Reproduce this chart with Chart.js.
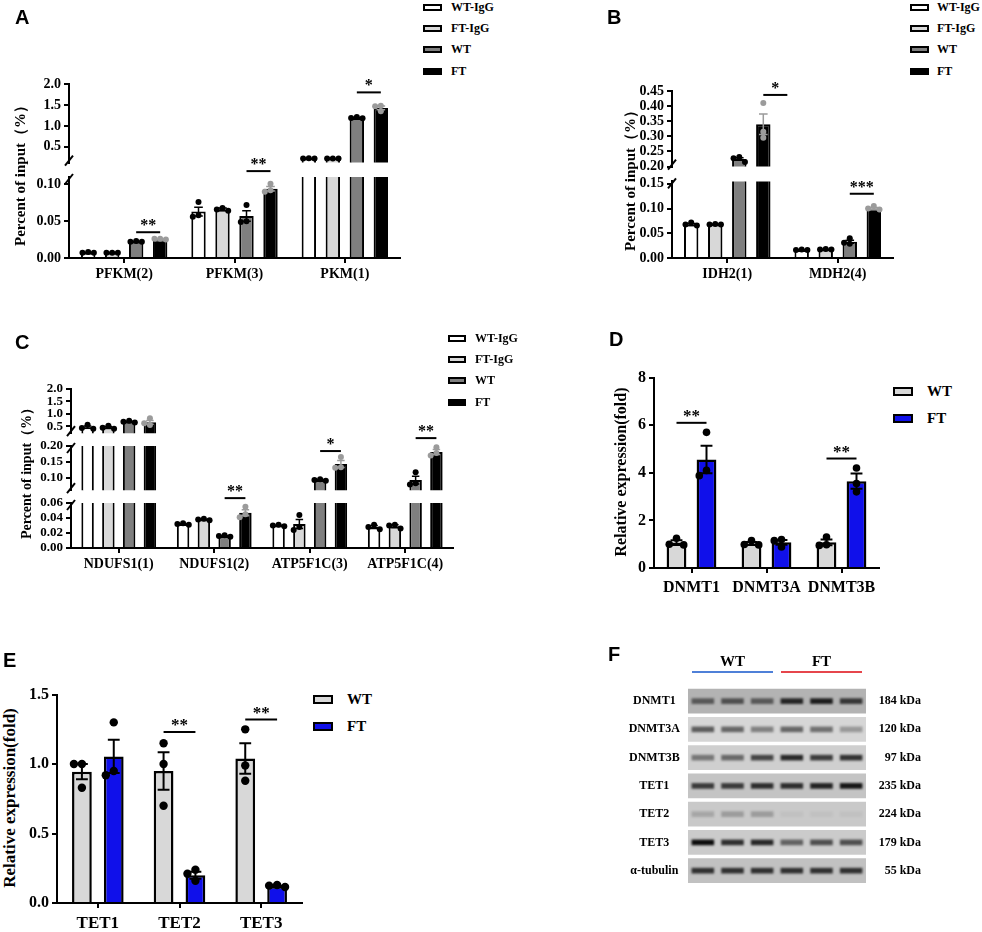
<!DOCTYPE html>
<html>
<head>
<meta charset="utf-8">
<script src="https://cdn.jsdelivr.net/npm/chart.js@4.4.1/dist/chart.umd.min.js"></script>
<style>
  body { margin: 0; background: #fff; }
  #fig { position: relative; width: 982px; height: 932px; overflow: hidden; background: #fff; }
  #fig canvas { position: absolute; }
  .tag { position: absolute; font: bold 20px "Liberation Sans", Arial, sans-serif; line-height: 20px; }
  .ytitle { position: absolute; white-space: nowrap; font-family: "Liberation Serif", "Times New Roman", serif; font-weight: bold; transform: translate(-50%, -50%) rotate(-90deg); }
</style>
</head>
<body>
<div id="fig"></div>
<script>
/* ══════════════════════════════════════
   Metabolic ChIP-qPCR / DNMT-TET figure
   - A, B, C broken-axis ChIP bars
   - D, E qPCR bars
   - F blot drawn as floating bars
══════════════════════════════════════ */

// ── Groups ──
const CHIP_GROUPS = ['WT-IgG', 'FT-IgG', 'WT', 'FT'];
const QPCR_GROUPS = ['WT', 'FT'];

// ── A : glycolysis genes ──
const A_CATS      = ['PFKM(2)', 'PFKM(3)', 'PKM(1)'];
const A_WTIGG     = [0.007, 0.063, 0.22];
const A_FTIGG     = [0.007, 0.066, 0.22];
const A_WT        = [0.022, 0.057, 1.19];
const A_FT        = [0.025, 0.094, 1.43];
const A_WTIGG_SEM = [0.0005, 0.006, 0.003];
const A_FTIGG_SEM = [0.0005, 0.002, 0.003];
const A_WT_SEM    = [0.0005, 0.007, 0.012];
const A_FT_SEM    = [0.0005, 0.003, 0.045];
const A_WTIGG_PTS = [[0.008, 0.007, 0.007], [0.076, 0.058, 0.056], [0.23, 0.22, 0.22]];
const A_FTIGG_PTS = [[0.007, 0.007, 0.007], [0.068, 0.066, 0.064], [0.225, 0.22, 0.22]];
const A_WT_PTS    = [[0.023, 0.022, 0.022], [0.072, 0.050, 0.049], [1.21, 1.19, 1.18]];
const A_FT_PTS    = [[0.026, 0.026, 0.025], [0.101, 0.092, 0.090], [1.48, 1.47, 1.35]];
const A_TICKS_HI  = [0.5, 1.0, 1.5, 2.0];
const A_TICKS_LO  = [0, 0.05, 0.10];

// ── B : TCA genes ──
const B_CATS      = ['IDH2(1)', 'MDH2(4)'];
const B_WTIGG     = [0.068, 0.016];
const B_FTIGG     = [0.068, 0.017];
const B_WT        = [0.225, 0.033];
const B_FT        = [0.340, 0.100];
const B_WTIGG_SEM = [0.002, 0.0005];
const B_FTIGG_SEM = [0.001, 0.0005];
const B_WT_SEM    = [0.004, 0.003];
const B_FT_SEM    = [0.034, 0.002];
const B_WTIGG_PTS = [[0.072, 0.068, 0.066], [0.017, 0.016, 0.016]];
const B_FTIGG_PTS = [[0.069, 0.068, 0.068], [0.018, 0.017, 0.017]];
const B_WT_PTS    = [[0.232, 0.228, 0.215], [0.040, 0.031, 0.029]];
const B_FT_PTS    = [[0.410, 0.315, 0.295], [0.105, 0.100, 0.098]];
const B_TICKS_HI  = [0.20, 0.25, 0.30, 0.35, 0.40, 0.45];
const B_TICKS_LO  = [0, 0.05, 0.10, 0.15];

// ── C : OXPHOS genes ──
const C_CATS      = ['NDUFS1(1)', 'NDUFS1(2)', 'ATP5F1C(3)', 'ATP5F1C(4)'];
const C_WTIGG     = [0.46, 0.032, 0.030, 0.028];
const C_FTIGG     = [0.45, 0.038, 0.032, 0.029];
const C_WT        = [0.68, 0.016, 0.092, 0.092];
const C_FT        = [0.66, 0.047, 0.143, 0.181];
const C_WTIGG_SEM = [0.045, 0.0005, 0.0005, 0.002];
const C_FTIGG_SEM = [0.035, 0.0005, 0.006, 0.002];
const C_WT_SEM    = [0.02, 0.0005, 0.002, 0.012];
const C_FT_SEM    = [0.075, 0.004, 0.011, 0.008];
const C_WTIGG_PTS = [[0.56, 0.43, 0.40], [0.033, 0.032, 0.031], [0.031, 0.030, 0.029], [0.031, 0.028, 0.025]];
const C_FTIGG_PTS = [[0.52, 0.44, 0.40], [0.039, 0.038, 0.037], [0.044, 0.028, 0.024], [0.031, 0.030, 0.026]];
const C_WT_PTS    = [[0.72, 0.68, 0.65], [0.017, 0.016, 0.015], [0.095, 0.092, 0.090], [0.117, 0.082, 0.078]];
const C_FT_PTS    = [[0.82, 0.62, 0.55], [0.055, 0.045, 0.041], [0.165, 0.133, 0.131], [0.196, 0.178, 0.170]];
const C_TICKS_HI  = [0.5, 1.0, 1.5, 2.0];
const C_TICKS_MID = [0.10, 0.15, 0.20];
const C_TICKS_LO  = [0, 0.02, 0.04, 0.06];

// ── D : DNMT qPCR ──
const D_CATS   = ['DNMT1', 'DNMT3A', 'DNMT3B'];
const D_WT     = [1.07, 1.03, 1.08];
const D_FT     = [4.56, 1.08, 3.65];
const D_WT_SEM = [0.10, 0.06, 0.12];
const D_FT_SEM = [0.58, 0.10, 0.32];
const D_WT_PTS = [[1.25, 1.0, 0.97], [1.15, 0.99, 0.97], [1.30, 0.98, 0.95]];
const D_FT_PTS = [[5.70, 4.10, 3.88], [1.20, 1.15, 0.88], [4.20, 3.55, 3.20]];
const D_TICKS  = [0, 2, 4, 6, 8];

// ── E : TET qPCR ──
const E_CATS   = ['TET1', 'TET2', 'TET3'];
const E_WT     = [0.945, 0.95, 1.04];
const E_FT     = [1.055, 0.20, 0.12];
const E_WT_SEM = [0.055, 0.135, 0.11];
const E_FT_SEM = [0.12, 0.025, 0.005];
const E_WT_PTS = [[1.0, 1.0, 0.83], [1.15, 1.0, 0.70], [1.25, 0.99, 0.88]];
const E_FT_PTS = [[1.30, 0.95, 0.92], [0.24, 0.21, 0.16], [0.13, 0.125, 0.115]];
const E_TICKS  = [0, 0.5, 1.0, 1.5];

// ── F : blot band intensity per lane (0..1) ──
const F_ROWS    = ['DNMT1', 'DNMT3A', 'DNMT3B', 'TET1', 'TET2', 'TET3', 'α-tubulin'];
const F_KDA     = ['184 kDa', '120 kDa', '97 kDa', '235 kDa', '224 kDa', '179 kDa', '55 kDa'];
const F_LANES   = ['WT', 'WT', 'WT', 'FT', 'FT', 'FT'];
const F_DNMT1   = [0.55, 0.60, 0.55, 0.85, 0.90, 0.75];
const F_DNMT3A  = [0.60, 0.55, 0.42, 0.55, 0.50, 0.30];
const F_DNMT3B  = [0.45, 0.52, 0.70, 0.85, 0.75, 0.80];
const F_TET1    = [0.75, 0.75, 0.82, 0.82, 0.88, 0.95];
const F_TET2    = [0.18, 0.24, 0.24, 0.04, 0.04, 0.04];
const F_TET3    = [1.00, 0.82, 0.85, 0.55, 0.65, 0.65];
const F_TUBULIN = [0.80, 0.80, 0.80, 0.80, 0.80, 0.80];

// ── Styles ──
const SERIF     = '"Liberation Serif", "Times New Roman", serif';
const CHIP_FILL = ['#ffffff', '#d8d8d8', '#7f7f7f', '#000000'];
const CHIP_MARK = ['#000000', '#000000', '#000000', '#9b9b9b'];
const QPCR_FILL = ['#d8d8d8', '#1010ea'];
const QPCR_MARK = ['#000000', '#000000'];
const F_BG      = ['#b3b3b3', '#d6d6d6', '#cfcfcf', '#c4c4c4', '#c9c9c9', '#cbcbcb', '#c1c1c1'];

var fig = document.getElementById('fig');

function addCanvas(x, y, w, h) {
  var c = document.createElement('canvas');
  c.width = w; c.height = h;
  c.style.left = x + 'px'; c.style.top = y + 'px';
  c.style.width = w + 'px'; c.style.height = h + 'px';
  fig.appendChild(c);
  return c;
}

function addDiv(cls, text, css) {
  var d = document.createElement('div');
  if (cls) d.className = cls;
  d.textContent = text;
  d.style.cssText += css;
  fig.appendChild(d);
  return d;
}

// ── Build bar datasets ──
function barSets(names, means, sems, pts, fills, marks, bw, barPct, catPct) {
  return names.map(function(name, i) {
    return {
      label              : name,
      data               : means[i].slice(),
      sem                : sems[i],
      pts                : pts[i],
      markColor          : marks[i],
      backgroundColor    : fills[i],
      borderColor        : '#000',
      borderWidth        : bw,
      borderSkipped      : 'start',
      barPercentage      : barPct,
      categoryPercentage : catPct,
      clip               : 0,
    };
  });
}

// x of a group slot (k may be one past the last series)
function slotX(chart, k, j) {
  var n = chart.data.datasets.length;
  if (k < n) return chart.getDatasetMeta(k).data[j].x;
  var last = chart.getDatasetMeta(n - 1).data[j].x;
  var prev = chart.getDatasetMeta(n - 2).data[j].x;
  return last + (k - n + 1) * (last - prev);
}

// ── Error bars, dots, brackets, axis breaks ──
function makeExtras(o) {
  return {
    id: 'extras',
    afterDatasetsDraw: function(chart) {
      var ctx = chart.ctx, a = chart.chartArea, ys = chart.scales.y;
      var inRange = function(v) { return v >= ys.min && v <= ys.max; };
      ctx.save();
      ctx.beginPath();
      ctx.rect(a.left, a.top - 8, a.right - a.left, a.bottom - a.top + 8);
      ctx.clip();

      chart.data.datasets.forEach(function(ds, i) {
        chart.getDatasetMeta(i).data.forEach(function(bar, j) {
          var m = ds.data[j], e = ds.sem[j];
          if (inRange(m)) {
            var hw = bar.width * 0.3;
            var yh = ys.getPixelForValue(m + e), yl = ys.getPixelForValue(m - e);
            ctx.strokeStyle = ds.markColor;
            ctx.lineWidth = o.errW;
            ctx.beginPath();
            ctx.moveTo(bar.x, yl); ctx.lineTo(bar.x, yh);
            ctx.moveTo(bar.x - hw, yh); ctx.lineTo(bar.x + hw, yh);
            ctx.moveTo(bar.x - hw, yl); ctx.lineTo(bar.x + hw, yl);
            ctx.stroke();
          }
          // simple swarm so equal values spread sideways
          var placed = [];
          ds.pts[j].forEach(function(v) {
            if (!inRange(v)) return;
            var py = ys.getPixelForValue(v), steps = [0, -1, 1, -2, 2], k = 0, px;
            do {
              px = bar.x + steps[k] * o.pr * 1.9;
              k++;
            } while (k < steps.length && placed.some(function(p) {
              return Math.hypot(p[0] - px, p[1] - py) < o.pr * 1.8;
            }));
            placed.push([px, py]);
            ctx.fillStyle = ds.markColor;
            ctx.beginPath();
            ctx.arc(px, py, o.pr, 0, Math.PI * 2);
            ctx.fill();
          });
        });
      });
      ctx.restore();

      ctx.save();
      ctx.strokeStyle = '#000';
      ctx.fillStyle = '#000';
      ctx.lineWidth = 2;
      (o.brackets || []).forEach(function(b) {
        var xa = slotX(chart, b.a, b.cat), xb = slotX(chart, b.b, b.cat);
        var y = ys.getPixelForValue(b.y);
        ctx.beginPath();
        ctx.moveTo(xa, y); ctx.lineTo(xb, y);
        ctx.stroke();
        ctx.font = 'bold ' + o.starSize + 'px ' + SERIF;
        ctx.textAlign = 'center';
        ctx.textBaseline = 'alphabetic';
        ctx.fillText(b.text, (xa + xb) / 2, y - 2);
      });
      function slash(x, y) {
        ctx.beginPath();
        ctx.moveTo(x - 4, y + 5);
        ctx.lineTo(x + 4, y - 5);
        ctx.stroke();
      }
      if (o.brkTop) slash(a.left, a.top + 2);
      if (o.brkBottom) slash(a.left, a.bottom - 2);
      ctx.restore();
    },
  };
}

// ── One axis segment as its own chart ──
function makeSeg(o) {
  var padL = 4, padR = 8, padT = o.padT || 12, padB = o.showX ? 2 : 10;
  var xH = o.showX ? o.xH : 0;
  var x0 = o.l - o.yW - padL, y0 = o.t - padT;
  var w = o.r + padR - x0, h = o.b + xH + padB - y0;
  var canvas = addCanvas(x0, y0, w, h);
  var axisLine = { display: true, color: '#000', width: 2 };
  var tickMarks = { display: true, drawOnChartArea: false, drawTicks: true, tickLength: 5, lineWidth: 2, color: '#000' };

  return new Chart(canvas, {
    type : 'bar',
    data : { labels: o.cats, datasets: o.sets() },
    options : {
      responsive : false,
      animation  : false,
      events     : [],
      layout     : { padding: { left: padL, right: padR, top: padT, bottom: padB } },
      plugins    : { legend: { display: false }, tooltip: { enabled: false } },
      scales : {
        x : {
          display : !!o.showX,
          offset  : true,
          grid    : Object.assign({ offset: false }, tickMarks),
          border  : axisLine,
          ticks   : {
            color       : '#000',
            font        : { family: SERIF, weight: 'bold', size: o.xFont || 14 },
            padding     : o.xPad || 3,
            maxRotation : 0,
            autoSkip    : false,
          },
          afterFit : function(s) { s.height = xH; },
        },
        y : {
          min    : o.min,
          max    : o.max,
          bounds : 'data',
          grid   : tickMarks,
          border : axisLine,
          ticks  : {
            color    : '#000',
            font     : { family: SERIF, weight: 'bold', size: o.yFont },
            padding  : 3,
            autoSkip : false,
            callback : function(v) { return Number(v).toFixed(o.dec); },
          },
          afterBuildTicks : function(s) {
            s.ticks = o.ticks.map(function(v) { return { value: v }; });
          },
          afterFit : function(s) { s.width = o.yW; },
        },
      },
    },
    plugins : [makeExtras(o)],
  });
}

function addLegend(boxX, textX, ys, names, fills, boxW, boxH, size) {
  names.forEach(function(name, i) {
    addDiv(null, '', 'position:absolute;box-sizing:border-box;border:2px solid #000;left:' + boxX +
      'px;top:' + (ys[i] - boxH / 2) + 'px;width:' + boxW + 'px;height:' + boxH + 'px;background:' + fills[i]);
    addDiv(null, name, 'position:absolute;white-space:nowrap;left:' + textX + 'px;top:' + (ys[i] - size * 0.62) +
      'px;font:bold ' + size + 'px ' + SERIF + ';line-height:' + Math.round(size * 1.2) + 'px');
  });
}

// ── Panel A ──
function setsA() {
  return barSets(CHIP_GROUPS, [A_WTIGG, A_FTIGG, A_WT, A_FT],
    [A_WTIGG_SEM, A_FTIGG_SEM, A_WT_SEM, A_FT_SEM],
    [A_WTIGG_PTS, A_FTIGG_PTS, A_WT_PTS, A_FT_PTS], CHIP_FILL, CHIP_MARK, 2, 0.6, 0.87);
}
var baseA = { cats: A_CATS, sets: setsA, l: 69, r: 400, yW: 55, yFont: 14, errW: 1.5, pr: 3, starSize: 16 };
makeSeg(Object.assign({}, baseA, {
  t: 84, b: 164, min: 0.125, max: 2.0, ticks: A_TICKS_HI, dec: 1, padT: 20, brkBottom: true,
  brackets: [{ cat: 2, a: 2, b: 3, y: 1.80, text: '*' }],
}));
makeSeg(Object.assign({}, baseA, {
  t: 177, b: 258, min: 0, max: 0.11, ticks: A_TICKS_LO, dec: 2, padT: 24, brkTop: true,
  showX: true, xH: 26, xFont: 14,
  brackets: [{ cat: 0, a: 2, b: 3, y: 0.035, text: '**' }, { cat: 1, a: 2, b: 3, y: 0.118, text: '**' }],
}));

// ── Panel B ──
function setsB() {
  return barSets(CHIP_GROUPS, [B_WTIGG, B_FTIGG, B_WT, B_FT],
    [B_WTIGG_SEM, B_FTIGG_SEM, B_WT_SEM, B_FT_SEM],
    [B_WTIGG_PTS, B_FTIGG_PTS, B_WT_PTS, B_FT_PTS], CHIP_FILL, CHIP_MARK, 2, 0.6, 0.87);
}
var baseB = { cats: B_CATS, sets: setsB, l: 672, r: 893, yW: 40, yFont: 14, errW: 1.5, pr: 3, starSize: 16 };
makeSeg(Object.assign({}, baseB, {
  t: 91, b: 168, min: 0.20, max: 0.45, ticks: B_TICKS_HI, dec: 2, padT: 14, brkBottom: true,
  brackets: [{ cat: 0, a: 3, b: 4, y: 0.437, text: '*' }],
}));
makeSeg(Object.assign({}, baseB, {
  t: 180, b: 258, min: 0, max: 0.155, ticks: B_TICKS_LO, dec: 2, padT: 10, brkTop: true,
  showX: true, xH: 26, xFont: 14,
  brackets: [{ cat: 1, a: 2, b: 3, y: 0.13, text: '***' }],
}));

// ── Panel C ──
function setsC() {
  return barSets(CHIP_GROUPS, [C_WTIGG, C_FTIGG, C_WT, C_FT],
    [C_WTIGG_SEM, C_FTIGG_SEM, C_WT_SEM, C_FT_SEM],
    [C_WTIGG_PTS, C_FTIGG_PTS, C_WT_PTS, C_FT_PTS], CHIP_FILL, CHIP_MARK, 2, 0.6, 0.87);
}
var baseC = { cats: C_CATS, sets: setsC, l: 71, r: 453, yW: 50, yFont: 13, errW: 1.5, pr: 3, starSize: 16 };
makeSeg(Object.assign({}, baseC, {
  t: 389, b: 434, min: 0.22, max: 2.0, ticks: C_TICKS_HI, dec: 1, padT: 12, brkBottom: true,
}));
makeSeg(Object.assign({}, baseC, {
  t: 446, b: 491, min: 0.06, max: 0.20, ticks: C_TICKS_MID, dec: 2, padT: 26, brkTop: true, brkBottom: true,
  brackets: [{ cat: 2, a: 2, b: 3, y: 0.184, text: '*' }, { cat: 3, a: 2, b: 3, y: 0.225, text: '**' }],
}));
makeSeg(Object.assign({}, baseC, {
  t: 503, b: 548, min: 0, max: 0.06, ticks: C_TICKS_LO, dec: 2, padT: 22, brkTop: true,
  showX: true, xH: 26, xFont: 14,
  brackets: [{ cat: 1, a: 2, b: 3, y: 0.0665, text: '**' }],
}));

// ── Panel D ──
makeSeg({
  cats: D_CATS, l: 654, r: 879, t: 377, b: 568, yW: 30, yFont: 16, errW: 2, pr: 3.8, starSize: 17,
  sets: function() {
    return barSets(QPCR_GROUPS, [D_WT, D_FT], [D_WT_SEM, D_FT_SEM], [D_WT_PTS, D_FT_PTS],
      QPCR_FILL, QPCR_MARK, 2.5, 0.66, 0.8);
  },
  min: 0, max: 8, ticks: D_TICKS, dec: 0, padT: 12, showX: true, xH: 30, xFont: 16, xPad: 5,
  brackets: [{ cat: 0, a: 0, b: 1, y: 6.1, text: '**' }, { cat: 2, a: 0, b: 1, y: 4.6, text: '**' }],
});

// ── Panel E ──
makeSeg({
  cats: E_CATS, l: 57, r: 302, t: 694, b: 903, yW: 32, yFont: 16, errW: 2, pr: 4.2, starSize: 17,
  sets: function() {
    return barSets(QPCR_GROUPS, [E_WT, E_FT], [E_WT_SEM, E_FT_SEM], [E_WT_PTS, E_FT_PTS],
      QPCR_FILL, QPCR_MARK, 2.5, 0.62, 0.78);
  },
  min: 0, max: 1.5, ticks: E_TICKS, dec: 1, padT: 12, showX: true, xH: 30, xFont: 17, xPad: 5,
  brackets: [{ cat: 1, a: 0, b: 1, y: 1.23, text: '**' }, { cat: 2, a: 0, b: 1, y: 1.32, text: '**' }],
});

// ── Panel F : blot ──
function makeBlot() {
  var l = 688, r = 866, t = 687, b = 896, yW = 84, y2W = 55, padT = 42, padB = 4;
  var x0 = l - yW, y0 = t - padT;
  var canvas = addCanvas(x0, y0, r + y2W + 4 - x0, b + padB - y0);
  var bands = [F_DNMT1, F_DNMT3A, F_DNMT3B, F_TET1, F_TET2, F_TET3, F_TUBULIN];

  var sets = F_LANES.map(function(lane, k) {
    return {
      label              : lane,
      data               : F_ROWS.map(function() { return [k + 0.12, k + 0.88]; }),
      backgroundColor    : bands.map(function(row) { return 'rgba(12,12,12,' + row[k] + ')'; }),
      barPercentage      : 0.2,
      categoryPercentage : 1,
      grouped            : false,
      order              : 0,
      blur               : 0.9,
    };
  });
  sets.push({
    label              : 'membrane',
    data               : F_ROWS.map(function() { return [0, F_LANES.length]; }),
    backgroundColor    : F_BG,
    barPercentage      : 0.88,
    categoryPercentage : 1,
    grouped            : false,
    order              : 1,
  });

  var rowFont = { family: SERIF, weight: 'bold', size: 12 };
  return new Chart(canvas, {
    type : 'bar',
    data : { labels: F_ROWS, datasets: sets },
    options : {
      indexAxis  : 'y',
      responsive : false,
      animation  : false,
      events     : [],
      layout     : { padding: { left: 0, right: 4, top: padT, bottom: padB } },
      plugins    : { legend: { display: false }, tooltip: { enabled: false } },
      scales : {
        x : { type: 'linear', min: 0, max: F_LANES.length, display: false },
        y : {
          type     : 'category',
          position : 'left',
          offset   : true,
          grid     : { display: false, drawTicks: false },
          border   : { display: false },
          ticks    : { color: '#000', font: rowFont, padding: 8, crossAlign: 'center' },
          afterFit : function(s) { s.width = yW; },
        },
        y2 : {
          type     : 'category',
          labels   : F_KDA,
          position : 'right',
          offset   : true,
          grid     : { display: false, drawTicks: false },
          border   : { display: false },
          ticks    : { color: '#000', font: rowFont, padding: 8, crossAlign: 'far' },
          afterFit : function(s) { s.width = y2W; },
        },
      },
    },
    plugins : [{
      id : 'blotExtras',
      beforeDatasetDraw : function(chart, args) {
        var ds = chart.data.datasets[args.index];
        if (ds.blur) { chart.ctx.save(); chart.ctx.filter = 'blur(' + ds.blur + 'px)'; }
      },
      afterDatasetDraw : function(chart, args) {
        if (chart.data.datasets[args.index].blur) chart.ctx.restore();
      },
      afterDraw : function(chart) {
        var ctx = chart.ctx, xs = chart.scales.x, a = chart.chartArea;
        var colors = { WT: '#4f80d8', FT: '#e6464c' };
        var start = 0;
        ctx.save();
        for (var k = 1; k <= F_LANES.length; k++) {
          if (k < F_LANES.length && F_LANES[k] === F_LANES[start]) continue;
          var x1 = xs.getPixelForValue(start) + 4, x2 = xs.getPixelForValue(k) - 4;
          ctx.strokeStyle = colors[F_LANES[start]];
          ctx.lineWidth = 2;
          ctx.beginPath();
          ctx.moveTo(x1, a.top - 15); ctx.lineTo(x2, a.top - 15);
          ctx.stroke();
          ctx.fillStyle = '#000';
          ctx.font = 'bold 15px ' + SERIF;
          ctx.textAlign = 'center';
          ctx.textBaseline = 'middle';
          ctx.fillText(F_LANES[start], (x1 + x2) / 2, a.top - 25);
          start = k;
        }
        ctx.restore();
      },
    }],
  });
}
makeBlot();

// ── Legends ──
addLegend(423, 451, [7, 28, 49, 71], CHIP_GROUPS, CHIP_FILL, 19, 7, 12);
addLegend(910, 937, [7, 28, 49, 71], CHIP_GROUPS, CHIP_FILL, 19, 7, 12);
addLegend(448, 475, [338, 359, 380, 402], CHIP_GROUPS, CHIP_FILL, 18, 7, 12);
addLegend(893, 927, [391, 418], QPCR_GROUPS, QPCR_FILL, 20, 9, 15);
addLegend(313, 347, [699, 726], QPCR_GROUPS, QPCR_FILL, 20, 9, 15);

// ── Axis titles ──
addDiv('ytitle', 'Percent of input（%）', 'left:20px;top:172px;font-size:15px');
addDiv('ytitle', 'Percent of input（%）', 'left:630px;top:177px;font-size:15px');
addDiv('ytitle', 'Percent of input（%）', 'left:27px;top:470px;font-size:14px');
addDiv('ytitle', 'Relative expression(fold)', 'left:621px;top:472px;font-size:16px');
addDiv('ytitle', 'Relative expression(fold)', 'left:10px;top:798px;font-size:17px');

// ── Panel tags ──
addDiv('tag', 'A', 'left:15px;top:7px');
addDiv('tag', 'B', 'left:607px;top:7px');
addDiv('tag', 'C', 'left:15px;top:332px');
addDiv('tag', 'D', 'left:609px;top:329px');
addDiv('tag', 'E', 'left:3px;top:650px');
addDiv('tag', 'F', 'left:608px;top:644px');
</script>
</body>
</html>
